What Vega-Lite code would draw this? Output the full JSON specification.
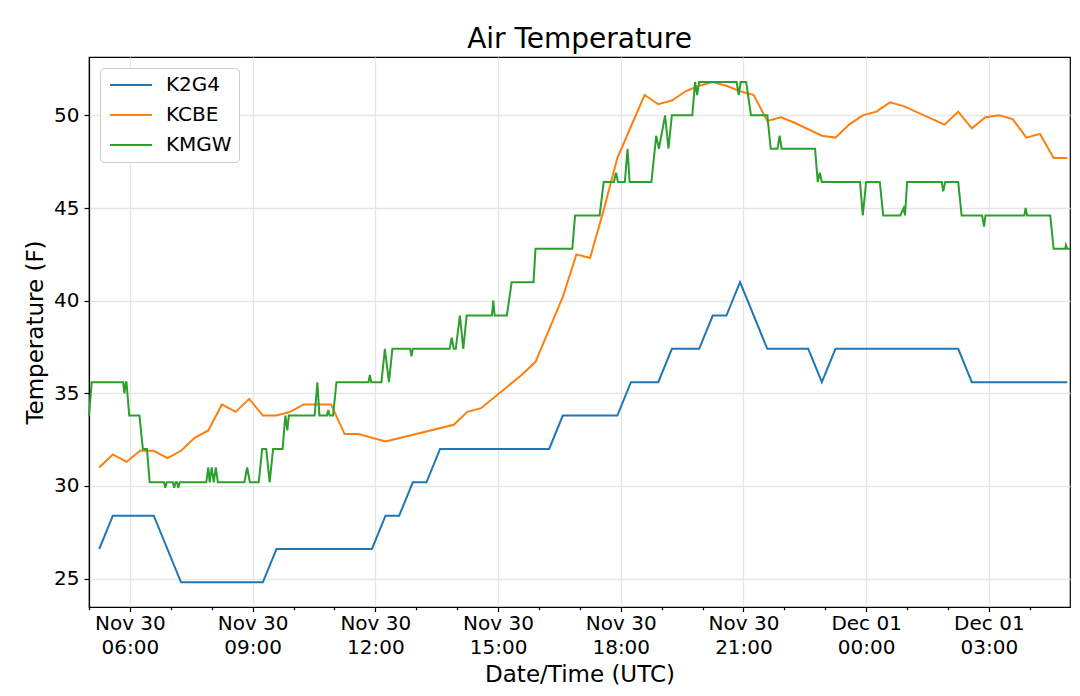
{
  "$schema": "https://vega.github.io/schema/vega-lite/v6.json",
  "description": "Air Temperature at three stations",
  "width": 981,
  "height": 550,
  "autosize": {"type": "none"},
  "padding": {"left": 89, "top": 57, "right": 10, "bottom": 89},
  "background": "white",
  "title": {
    "text": "Air Temperature",
    "font": "DejaVu Sans",
    "fontSize": 28,
    "fontWeight": "normal",
    "color": "black",
    "anchor": "middle",
    "offset": 3
  },
  "data": {
    "values": [
      {"station": "K2G4", "time": "2019-11-30T05:15:00Z", "temp": 26.6},
      {"station": "K2G4", "time": "2019-11-30T05:35:00Z", "temp": 28.4},
      {"station": "K2G4", "time": "2019-11-30T06:35:00Z", "temp": 28.4},
      {"station": "K2G4", "time": "2019-11-30T07:15:00Z", "temp": 24.8},
      {"station": "K2G4", "time": "2019-11-30T09:15:00Z", "temp": 24.8},
      {"station": "K2G4", "time": "2019-11-30T09:35:00Z", "temp": 26.6},
      {"station": "K2G4", "time": "2019-11-30T11:55:00Z", "temp": 26.6},
      {"station": "K2G4", "time": "2019-11-30T12:15:00Z", "temp": 28.4},
      {"station": "K2G4", "time": "2019-11-30T12:35:00Z", "temp": 28.4},
      {"station": "K2G4", "time": "2019-11-30T12:55:00Z", "temp": 30.2},
      {"station": "K2G4", "time": "2019-11-30T13:15:00Z", "temp": 30.2},
      {"station": "K2G4", "time": "2019-11-30T13:35:00Z", "temp": 32.0},
      {"station": "K2G4", "time": "2019-11-30T16:15:00Z", "temp": 32.0},
      {"station": "K2G4", "time": "2019-11-30T16:35:00Z", "temp": 33.8},
      {"station": "K2G4", "time": "2019-11-30T17:55:00Z", "temp": 33.8},
      {"station": "K2G4", "time": "2019-11-30T18:15:00Z", "temp": 35.6},
      {"station": "K2G4", "time": "2019-11-30T18:55:00Z", "temp": 35.6},
      {"station": "K2G4", "time": "2019-11-30T19:15:00Z", "temp": 37.4},
      {"station": "K2G4", "time": "2019-11-30T19:55:00Z", "temp": 37.4},
      {"station": "K2G4", "time": "2019-11-30T20:15:00Z", "temp": 39.2},
      {"station": "K2G4", "time": "2019-11-30T20:35:00Z", "temp": 39.2},
      {"station": "K2G4", "time": "2019-11-30T20:55:00Z", "temp": 41.0},
      {"station": "K2G4", "time": "2019-11-30T21:35:00Z", "temp": 37.4},
      {"station": "K2G4", "time": "2019-11-30T22:35:00Z", "temp": 37.4},
      {"station": "K2G4", "time": "2019-11-30T22:55:00Z", "temp": 35.6},
      {"station": "K2G4", "time": "2019-11-30T23:15:00Z", "temp": 37.4},
      {"station": "K2G4", "time": "2019-12-01T02:15:00Z", "temp": 37.4},
      {"station": "K2G4", "time": "2019-12-01T02:35:00Z", "temp": 35.6},
      {"station": "K2G4", "time": "2019-12-01T04:55:00Z", "temp": 35.6},
      {"station": "KCBE", "time": "2019-11-30T05:15:00Z", "temp": 31.0},
      {"station": "KCBE", "time": "2019-11-30T05:35:00Z", "temp": 31.7},
      {"station": "KCBE", "time": "2019-11-30T05:55:00Z", "temp": 31.3},
      {"station": "KCBE", "time": "2019-11-30T06:15:00Z", "temp": 31.9},
      {"station": "KCBE", "time": "2019-11-30T06:35:00Z", "temp": 31.9},
      {"station": "KCBE", "time": "2019-11-30T06:55:00Z", "temp": 31.5},
      {"station": "KCBE", "time": "2019-11-30T07:15:00Z", "temp": 31.9},
      {"station": "KCBE", "time": "2019-11-30T07:35:00Z", "temp": 32.6},
      {"station": "KCBE", "time": "2019-11-30T07:55:00Z", "temp": 33.0},
      {"station": "KCBE", "time": "2019-11-30T08:15:00Z", "temp": 34.4},
      {"station": "KCBE", "time": "2019-11-30T08:35:00Z", "temp": 34.0},
      {"station": "KCBE", "time": "2019-11-30T08:55:00Z", "temp": 34.7},
      {"station": "KCBE", "time": "2019-11-30T09:15:00Z", "temp": 33.8},
      {"station": "KCBE", "time": "2019-11-30T09:35:00Z", "temp": 33.8},
      {"station": "KCBE", "time": "2019-11-30T09:55:00Z", "temp": 34.0},
      {"station": "KCBE", "time": "2019-11-30T10:15:00Z", "temp": 34.4},
      {"station": "KCBE", "time": "2019-11-30T10:35:00Z", "temp": 34.4},
      {"station": "KCBE", "time": "2019-11-30T10:55:00Z", "temp": 34.4},
      {"station": "KCBE", "time": "2019-11-30T11:15:00Z", "temp": 32.8},
      {"station": "KCBE", "time": "2019-11-30T11:35:00Z", "temp": 32.8},
      {"station": "KCBE", "time": "2019-11-30T12:15:00Z", "temp": 32.4},
      {"station": "KCBE", "time": "2019-11-30T13:55:00Z", "temp": 33.3},
      {"station": "KCBE", "time": "2019-11-30T14:15:00Z", "temp": 34.0},
      {"station": "KCBE", "time": "2019-11-30T14:35:00Z", "temp": 34.2},
      {"station": "KCBE", "time": "2019-11-30T15:35:00Z", "temp": 36.0},
      {"station": "KCBE", "time": "2019-11-30T15:55:00Z", "temp": 36.7},
      {"station": "KCBE", "time": "2019-11-30T16:35:00Z", "temp": 40.2},
      {"station": "KCBE", "time": "2019-11-30T16:55:00Z", "temp": 42.5},
      {"station": "KCBE", "time": "2019-11-30T17:15:00Z", "temp": 42.3},
      {"station": "KCBE", "time": "2019-11-30T17:35:00Z", "temp": 44.9},
      {"station": "KCBE", "time": "2019-11-30T17:55:00Z", "temp": 47.7},
      {"station": "KCBE", "time": "2019-11-30T18:15:00Z", "temp": 49.4},
      {"station": "KCBE", "time": "2019-11-30T18:35:00Z", "temp": 51.1},
      {"station": "KCBE", "time": "2019-11-30T18:55:00Z", "temp": 50.6},
      {"station": "KCBE", "time": "2019-11-30T19:15:00Z", "temp": 50.8},
      {"station": "KCBE", "time": "2019-11-30T19:35:00Z", "temp": 51.3},
      {"station": "KCBE", "time": "2019-11-30T19:55:00Z", "temp": 51.6},
      {"station": "KCBE", "time": "2019-11-30T20:15:00Z", "temp": 51.8},
      {"station": "KCBE", "time": "2019-11-30T20:35:00Z", "temp": 51.6},
      {"station": "KCBE", "time": "2019-11-30T20:55:00Z", "temp": 51.3},
      {"station": "KCBE", "time": "2019-11-30T21:15:00Z", "temp": 51.1},
      {"station": "KCBE", "time": "2019-11-30T21:35:00Z", "temp": 49.7},
      {"station": "KCBE", "time": "2019-11-30T21:55:00Z", "temp": 49.9},
      {"station": "KCBE", "time": "2019-11-30T22:15:00Z", "temp": 49.6},
      {"station": "KCBE", "time": "2019-11-30T22:55:00Z", "temp": 48.9},
      {"station": "KCBE", "time": "2019-11-30T23:15:00Z", "temp": 48.8},
      {"station": "KCBE", "time": "2019-11-30T23:35:00Z", "temp": 49.5},
      {"station": "KCBE", "time": "2019-11-30T23:55:00Z", "temp": 50.0},
      {"station": "KCBE", "time": "2019-12-01T00:15:00Z", "temp": 50.2},
      {"station": "KCBE", "time": "2019-12-01T00:35:00Z", "temp": 50.7},
      {"station": "KCBE", "time": "2019-12-01T00:55:00Z", "temp": 50.5},
      {"station": "KCBE", "time": "2019-12-01T01:55:00Z", "temp": 49.5},
      {"station": "KCBE", "time": "2019-12-01T02:15:00Z", "temp": 50.2},
      {"station": "KCBE", "time": "2019-12-01T02:35:00Z", "temp": 49.3},
      {"station": "KCBE", "time": "2019-12-01T02:55:00Z", "temp": 49.9},
      {"station": "KCBE", "time": "2019-12-01T03:15:00Z", "temp": 50.0},
      {"station": "KCBE", "time": "2019-12-01T03:35:00Z", "temp": 49.8},
      {"station": "KCBE", "time": "2019-12-01T03:55:00Z", "temp": 48.8},
      {"station": "KCBE", "time": "2019-12-01T04:15:00Z", "temp": 49.0},
      {"station": "KCBE", "time": "2019-12-01T04:35:00Z", "temp": 47.7},
      {"station": "KCBE", "time": "2019-12-01T04:55:00Z", "temp": 47.7},
      {"station": "KMGW", "time": "2019-11-30T05:00:00Z", "temp": 33.8},
      {"station": "KMGW", "time": "2019-11-30T05:04:00Z", "temp": 35.6},
      {"station": "KMGW", "time": "2019-11-30T05:50:00Z", "temp": 35.6},
      {"station": "KMGW", "time": "2019-11-30T05:52:00Z", "temp": 35.0},
      {"station": "KMGW", "time": "2019-11-30T05:54:00Z", "temp": 35.6},
      {"station": "KMGW", "time": "2019-11-30T05:55:00Z", "temp": 35.6},
      {"station": "KMGW", "time": "2019-11-30T05:59:00Z", "temp": 33.8},
      {"station": "KMGW", "time": "2019-11-30T06:14:00Z", "temp": 33.8},
      {"station": "KMGW", "time": "2019-11-30T06:19:00Z", "temp": 32.0},
      {"station": "KMGW", "time": "2019-11-30T06:25:00Z", "temp": 32.0},
      {"station": "KMGW", "time": "2019-11-30T06:29:00Z", "temp": 30.2},
      {"station": "KMGW", "time": "2019-11-30T06:50:00Z", "temp": 30.2},
      {"station": "KMGW", "time": "2019-11-30T06:52:00Z", "temp": 29.9},
      {"station": "KMGW", "time": "2019-11-30T06:54:00Z", "temp": 30.2},
      {"station": "KMGW", "time": "2019-11-30T07:03:00Z", "temp": 30.2},
      {"station": "KMGW", "time": "2019-11-30T07:05:00Z", "temp": 29.9},
      {"station": "KMGW", "time": "2019-11-30T07:07:00Z", "temp": 30.2},
      {"station": "KMGW", "time": "2019-11-30T07:09:00Z", "temp": 30.2},
      {"station": "KMGW", "time": "2019-11-30T07:11:00Z", "temp": 29.9},
      {"station": "KMGW", "time": "2019-11-30T07:13:00Z", "temp": 30.2},
      {"station": "KMGW", "time": "2019-11-30T07:52:00Z", "temp": 30.2},
      {"station": "KMGW", "time": "2019-11-30T07:55:00Z", "temp": 31.0},
      {"station": "KMGW", "time": "2019-11-30T07:57:00Z", "temp": 30.2},
      {"station": "KMGW", "time": "2019-11-30T08:00:00Z", "temp": 31.0},
      {"station": "KMGW", "time": "2019-11-30T08:03:00Z", "temp": 30.2},
      {"station": "KMGW", "time": "2019-11-30T08:06:00Z", "temp": 31.0},
      {"station": "KMGW", "time": "2019-11-30T08:09:00Z", "temp": 30.2},
      {"station": "KMGW", "time": "2019-11-30T08:48:00Z", "temp": 30.2},
      {"station": "KMGW", "time": "2019-11-30T08:52:00Z", "temp": 31.0},
      {"station": "KMGW", "time": "2019-11-30T08:56:00Z", "temp": 30.2},
      {"station": "KMGW", "time": "2019-11-30T09:09:00Z", "temp": 30.2},
      {"station": "KMGW", "time": "2019-11-30T09:14:00Z", "temp": 32.0},
      {"station": "KMGW", "time": "2019-11-30T09:20:00Z", "temp": 32.0},
      {"station": "KMGW", "time": "2019-11-30T09:25:00Z", "temp": 30.2},
      {"station": "KMGW", "time": "2019-11-30T09:30:00Z", "temp": 32.0},
      {"station": "KMGW", "time": "2019-11-30T09:44:00Z", "temp": 32.0},
      {"station": "KMGW", "time": "2019-11-30T09:48:00Z", "temp": 33.8},
      {"station": "KMGW", "time": "2019-11-30T09:51:00Z", "temp": 33.0},
      {"station": "KMGW", "time": "2019-11-30T09:53:00Z", "temp": 33.8},
      {"station": "KMGW", "time": "2019-11-30T10:31:00Z", "temp": 33.8},
      {"station": "KMGW", "time": "2019-11-30T10:35:00Z", "temp": 35.6},
      {"station": "KMGW", "time": "2019-11-30T10:38:00Z", "temp": 33.8},
      {"station": "KMGW", "time": "2019-11-30T10:49:00Z", "temp": 33.8},
      {"station": "KMGW", "time": "2019-11-30T10:51:00Z", "temp": 34.1},
      {"station": "KMGW", "time": "2019-11-30T10:53:00Z", "temp": 33.8},
      {"station": "KMGW", "time": "2019-11-30T10:58:00Z", "temp": 33.8},
      {"station": "KMGW", "time": "2019-11-30T11:03:00Z", "temp": 35.6},
      {"station": "KMGW", "time": "2019-11-30T11:50:00Z", "temp": 35.6},
      {"station": "KMGW", "time": "2019-11-30T11:52:00Z", "temp": 36.0},
      {"station": "KMGW", "time": "2019-11-30T11:54:00Z", "temp": 35.6},
      {"station": "KMGW", "time": "2019-11-30T12:09:00Z", "temp": 35.6},
      {"station": "KMGW", "time": "2019-11-30T12:14:00Z", "temp": 37.4},
      {"station": "KMGW", "time": "2019-11-30T12:20:00Z", "temp": 35.6},
      {"station": "KMGW", "time": "2019-11-30T12:25:00Z", "temp": 37.4},
      {"station": "KMGW", "time": "2019-11-30T12:51:00Z", "temp": 37.4},
      {"station": "KMGW", "time": "2019-11-30T12:53:00Z", "temp": 37.0},
      {"station": "KMGW", "time": "2019-11-30T12:55:00Z", "temp": 37.4},
      {"station": "KMGW", "time": "2019-11-30T13:49:00Z", "temp": 37.4},
      {"station": "KMGW", "time": "2019-11-30T13:52:00Z", "temp": 38.0},
      {"station": "KMGW", "time": "2019-11-30T13:55:00Z", "temp": 37.4},
      {"station": "KMGW", "time": "2019-11-30T13:58:00Z", "temp": 37.4},
      {"station": "KMGW", "time": "2019-11-30T14:04:00Z", "temp": 39.2},
      {"station": "KMGW", "time": "2019-11-30T14:09:00Z", "temp": 37.4},
      {"station": "KMGW", "time": "2019-11-30T14:14:00Z", "temp": 39.2},
      {"station": "KMGW", "time": "2019-11-30T14:51:00Z", "temp": 39.2},
      {"station": "KMGW", "time": "2019-11-30T14:53:00Z", "temp": 40.0},
      {"station": "KMGW", "time": "2019-11-30T14:55:00Z", "temp": 39.2},
      {"station": "KMGW", "time": "2019-11-30T15:13:00Z", "temp": 39.2},
      {"station": "KMGW", "time": "2019-11-30T15:20:00Z", "temp": 41.0},
      {"station": "KMGW", "time": "2019-11-30T15:52:00Z", "temp": 41.0},
      {"station": "KMGW", "time": "2019-11-30T15:55:00Z", "temp": 42.8},
      {"station": "KMGW", "time": "2019-11-30T16:49:00Z", "temp": 42.8},
      {"station": "KMGW", "time": "2019-11-30T16:53:00Z", "temp": 44.6},
      {"station": "KMGW", "time": "2019-11-30T17:29:00Z", "temp": 44.6},
      {"station": "KMGW", "time": "2019-11-30T17:35:00Z", "temp": 46.4},
      {"station": "KMGW", "time": "2019-11-30T17:50:00Z", "temp": 46.4},
      {"station": "KMGW", "time": "2019-11-30T17:53:00Z", "temp": 46.9},
      {"station": "KMGW", "time": "2019-11-30T17:56:00Z", "temp": 46.4},
      {"station": "KMGW", "time": "2019-11-30T18:06:00Z", "temp": 46.4},
      {"station": "KMGW", "time": "2019-11-30T18:10:00Z", "temp": 48.2},
      {"station": "KMGW", "time": "2019-11-30T18:13:00Z", "temp": 46.4},
      {"station": "KMGW", "time": "2019-11-30T18:45:00Z", "temp": 46.4},
      {"station": "KMGW", "time": "2019-11-30T18:52:00Z", "temp": 48.9},
      {"station": "KMGW", "time": "2019-11-30T18:56:00Z", "temp": 48.2},
      {"station": "KMGW", "time": "2019-11-30T19:05:00Z", "temp": 50.0},
      {"station": "KMGW", "time": "2019-11-30T19:10:00Z", "temp": 48.2},
      {"station": "KMGW", "time": "2019-11-30T19:15:00Z", "temp": 50.0},
      {"station": "KMGW", "time": "2019-11-30T19:45:00Z", "temp": 50.0},
      {"station": "KMGW", "time": "2019-11-30T19:49:00Z", "temp": 51.8},
      {"station": "KMGW", "time": "2019-11-30T19:52:00Z", "temp": 51.1},
      {"station": "KMGW", "time": "2019-11-30T19:55:00Z", "temp": 51.8},
      {"station": "KMGW", "time": "2019-11-30T20:50:00Z", "temp": 51.8},
      {"station": "KMGW", "time": "2019-11-30T20:53:00Z", "temp": 51.1},
      {"station": "KMGW", "time": "2019-11-30T20:56:00Z", "temp": 51.8},
      {"station": "KMGW", "time": "2019-11-30T21:04:00Z", "temp": 51.8},
      {"station": "KMGW", "time": "2019-11-30T21:11:00Z", "temp": 50.0},
      {"station": "KMGW", "time": "2019-11-30T21:35:00Z", "temp": 50.0},
      {"station": "KMGW", "time": "2019-11-30T21:40:00Z", "temp": 48.2},
      {"station": "KMGW", "time": "2019-11-30T21:50:00Z", "temp": 48.2},
      {"station": "KMGW", "time": "2019-11-30T21:53:00Z", "temp": 48.9},
      {"station": "KMGW", "time": "2019-11-30T21:56:00Z", "temp": 48.2},
      {"station": "KMGW", "time": "2019-11-30T22:45:00Z", "temp": 48.2},
      {"station": "KMGW", "time": "2019-11-30T22:49:00Z", "temp": 46.4},
      {"station": "KMGW", "time": "2019-11-30T22:52:00Z", "temp": 46.9},
      {"station": "KMGW", "time": "2019-11-30T22:55:00Z", "temp": 46.4},
      {"station": "KMGW", "time": "2019-11-30T23:51:00Z", "temp": 46.4},
      {"station": "KMGW", "time": "2019-11-30T23:55:00Z", "temp": 44.6},
      {"station": "KMGW", "time": "2019-12-01T00:00:00Z", "temp": 46.4},
      {"station": "KMGW", "time": "2019-12-01T00:20:00Z", "temp": 46.4},
      {"station": "KMGW", "time": "2019-12-01T00:25:00Z", "temp": 44.6},
      {"station": "KMGW", "time": "2019-12-01T00:50:00Z", "temp": 44.6},
      {"station": "KMGW", "time": "2019-12-01T00:55:00Z", "temp": 45.0},
      {"station": "KMGW", "time": "2019-12-01T00:57:00Z", "temp": 44.6},
      {"station": "KMGW", "time": "2019-12-01T01:00:00Z", "temp": 46.4},
      {"station": "KMGW", "time": "2019-12-01T01:51:00Z", "temp": 46.4},
      {"station": "KMGW", "time": "2019-12-01T01:53:00Z", "temp": 45.9},
      {"station": "KMGW", "time": "2019-12-01T01:56:00Z", "temp": 46.4},
      {"station": "KMGW", "time": "2019-12-01T02:15:00Z", "temp": 46.4},
      {"station": "KMGW", "time": "2019-12-01T02:20:00Z", "temp": 44.6},
      {"station": "KMGW", "time": "2019-12-01T02:50:00Z", "temp": 44.6},
      {"station": "KMGW", "time": "2019-12-01T02:53:00Z", "temp": 44.0},
      {"station": "KMGW", "time": "2019-12-01T02:55:00Z", "temp": 44.6},
      {"station": "KMGW", "time": "2019-12-01T03:52:00Z", "temp": 44.6},
      {"station": "KMGW", "time": "2019-12-01T03:54:00Z", "temp": 45.0},
      {"station": "KMGW", "time": "2019-12-01T03:56:00Z", "temp": 44.6},
      {"station": "KMGW", "time": "2019-12-01T04:30:00Z", "temp": 44.6},
      {"station": "KMGW", "time": "2019-12-01T04:35:00Z", "temp": 42.8},
      {"station": "KMGW", "time": "2019-12-01T04:52:00Z", "temp": 42.8},
      {"station": "KMGW", "time": "2019-12-01T04:53:00Z", "temp": 43.0},
      {"station": "KMGW", "time": "2019-12-01T04:55:00Z", "temp": 42.8},
      {"station": "KMGW", "time": "2019-12-01T04:59:00Z", "temp": 42.8}
    ]
  },
  "mark": {"type": "line", "strokeWidth": 2},
  "encoding": {
    "x": {
      "field": "time",
      "type": "temporal",
      "scale": {
        "type": "utc",
        "nice": false,
        "domain": [1575090000000, 1575176340000]
      },
      "axis": {
        "title": "Date/Time (UTC)",
        "values": [
          1575090000000, 1575093600000, 1575097200000, 1575100800000,
          1575104400000, 1575108000000, 1575111600000, 1575115200000,
          1575118800000, 1575122400000, 1575126000000, 1575129600000,
          1575133200000, 1575136800000, 1575140400000, 1575144000000,
          1575147600000, 1575151200000, 1575154800000, 1575158400000,
          1575162000000, 1575165600000, 1575169200000, 1575172800000
        ],
        "labelExpr": "utchours(datum.value) % 3 == 0 ? [utcFormat(datum.value, '%b %d'), utcFormat(datum.value, '%H:%M')] : ''",
        "labelOverlap": false,
        "labelFlush": false,
        "labelBound": false,
        "labelAlign": "center",
        "labelBaseline": "top",
        "labelLineHeight": 23.5,
        "labelPadding": 2,
        "tickSize": 4.5,
        "tickDash": {"condition": {"test": "utchours(datum.value) % 3 == 0", "value": []}, "value": [2.7, 10]},
        "gridOpacity": {"condition": {"test": "utchours(datum.value) % 3 == 0", "value": 1}, "value": 0},
        "titlePadding": 6
      }
    },
    "y": {
      "field": "temp",
      "type": "quantitative",
      "scale": {"domain": [23.47, 53.15], "nice": false, "zero": false},
      "axis": {
        "title": "Temperature (F)",
        "values": [25, 30, 35, 40, 45, 50],
        "tickSize": 5,
        "labelPadding": 5,
        "titlePadding": 6
      }
    },
    "color": {
      "field": "station",
      "type": "nominal",
      "scale": {"domain": ["K2G4", "KCBE", "KMGW"], "range": ["#1f77b4", "#ff7f0e", "#2ca02c"]},
      "legend": {
        "title": null,
        "orient": "none",
        "legendX": 11,
        "legendY": 11,
        "symbolType": "M-3,0H3",
        "symbolSize": 196,
        "symbolOffset": 14,
        "symbolStrokeWidth": 2,
        "labelFont": "DejaVu Sans",
        "labelFontSize": 20,
        "labelColor": "black",
        "labelOffset": 25,
        "rowPadding": 10,
        "padding": 7,
        "strokeColor": "#cccccc",
        "fillColor": "white",
        "cornerRadius": 4
      }
    }
  },
  "config": {
    "view": {"stroke": "black", "strokeWidth": 1.2},
    "axis": {
      "labelFont": "DejaVu Sans",
      "titleFont": "DejaVu Sans",
      "labelFontSize": 20,
      "titleFontSize": 23,
      "titleFontWeight": "normal",
      "labelColor": "black",
      "titleColor": "black",
      "domainColor": "black",
      "domainWidth": 1.2,
      "tickColor": "black",
      "tickWidth": 1.2,
      "gridColor": "#e6e6e6",
      "gridWidth": 1.3
    }
  }
}
